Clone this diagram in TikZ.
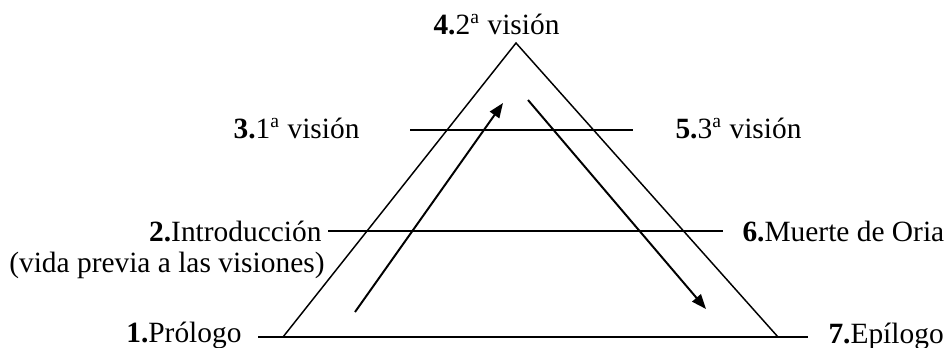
\documentclass[tikz,border=0pt]{standalone}
\usepackage{fontspec}
\setmainfont{Liberation Serif}
\usetikzlibrary{arrows.meta, positioning}

\begin{document}
\begin{tikzpicture}[
    x=0.408pt, y=-0.408pt,
    lbl/.style={inner sep=0pt, font=\fontsize{12}{14}\selectfont},
    edge/.style={line width=0.6pt},
    arr/.style={-{Triangle[length=6pt, width=4.6pt]}, line width=0.8pt}
  ]
  \useasboundingbox (0,0) rectangle (948,347);

  % triangle
  \coordinate (top) at (516,43);
  \coordinate (bl) at (283,337);
  \coordinate (br) at (778,337);

  % levels
  \coordinate (up1) at (410,130);
  \coordinate (up2) at (633,130);
  \coordinate (mid1) at (328,231);
  \coordinate (mid2) at (723,231);
  \coordinate (base1) at (258,337);
  \coordinate (base2) at (808,337);

  % arrows
  \coordinate (rise1) at (355,312);
  \coordinate (rise2) at (503,103);
  \coordinate (fall1) at (528,100);
  \coordinate (fall2) at (706,309);

  \node[lbl, anchor=base west] (vision2) at (433,34) {\textbf{4.}2\textsuperscript{a} visión};
  \node[lbl, anchor=base east] (vision1) at (360,138) {\textbf{3.}1\textsuperscript{a} visión};
  \node[lbl, anchor=base west] (vision3) at (675,138) {\textbf{5.}3\textsuperscript{a} visión};
  \node[lbl, anchor=base east] (intro) at (322,241) {\textbf{2.}Introducción};
  \node[lbl, anchor=base east] (vida) at (325,272) {(vida previa a las visiones)};
  \node[lbl, anchor=base west] (muerte) at (742,241) {\textbf{6.}Muerte de Oria};
  \node[lbl, anchor=base east] (prologo) at (242,342) {\textbf{1.}Prólogo};
  \node[lbl, anchor=base west] (epilogo) at (828,343) {\textbf{7.}Epílogo};

  \draw[edge] (bl) -- (top) -- (br);
  \draw[edge] (up1) -- (up2);
  \draw[edge] (mid1) -- (mid2);
  \draw[edge] (base1) -- (base2);

  \draw[arr] (rise1) -- (rise2);
  \draw[arr] (fall1) -- (fall2);

\end{tikzpicture}
\end{document}
